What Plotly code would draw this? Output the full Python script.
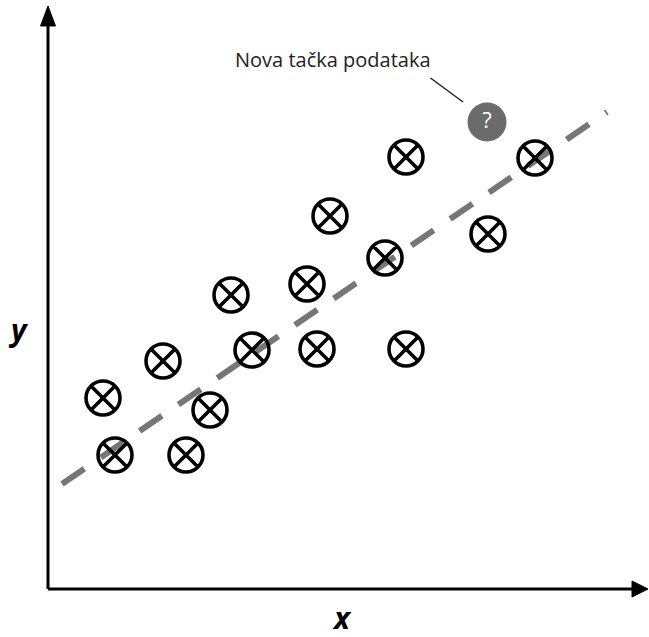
import plotly.graph_objects as go

# Observed data points (abstract units)
pts_x = [1.10, 1.34, 2.76, 3.24, 2.30, 3.66, 4.08, 5.18, 5.38, 5.64, 6.74, 7.16, 7.16, 8.80, 9.74]
pts_y = [3.82, 2.68, 2.68, 3.58, 4.56, 5.88, 4.78, 6.10, 4.80, 7.46, 6.62, 4.80, 8.64, 7.10, 8.62]

# New data point
new_x = [8.78]
new_y = [9.34]
new_label = "Nova tačka podataka"

# Regression line endpoints
line_x = [0.28, 11.18]
line_y = [2.10, 9.54]

X_RANGE = [-0.96, 12.02]
Y_RANGE = [-0.96, 11.78]

fig = go.Figure()

fig.add_trace(go.Scatter(
    x=line_x, y=line_y, mode="lines",
    line=dict(color="#767676", width=6, dash="27px,20px"),
    hoverinfo="skip", showlegend=False,
))

fig.add_trace(go.Scatter(
    x=pts_x, y=pts_y, mode="markers",
    marker=dict(symbol="circle-x-open", size=34, color="black",
                line=dict(color="black", width=3.6)),
    showlegend=False,
))

fig.add_trace(go.Scatter(
    x=new_x, y=new_y, mode="markers+text",
    marker=dict(symbol="circle", size=39, color="#6b6b6b", line=dict(width=0)),
    text=["?"], textposition="middle center",
    textfont=dict(color="white", size=22, family="Open Sans"),
    showlegend=False,
))

shapes = []
# axis lines
shapes.append(dict(type="line", xref="x", yref="y", x0=0, y0=0, x1=11.7, y1=0,
                   line=dict(color="black", width=3)))
shapes.append(dict(type="line", xref="x", yref="y", x0=0, y0=0, x1=0, y1=11.4,
                   line=dict(color="black", width=3)))
# arrowheads
shapes.append(dict(type="path", xref="x", yref="y",
                   path="M 11.68 0.16 L 12.0 0 L 11.68 -0.16 Z",
                   fillcolor="black", line=dict(color="black", width=1)))
shapes.append(dict(type="path", xref="x", yref="y",
                   path="M -0.15 11.26 L 0.0 11.66 L 0.15 11.26 Z",
                   fillcolor="black", line=dict(color="black", width=1)))
# leader line for annotation
shapes.append(dict(type="line", xref="x", yref="y",
                   x0=7.65, y0=10.22, x1=8.3, y1=9.74,
                   line=dict(color="#222222", width=1.5)))

annotations = [
    dict(x=5.70, y=10.60, xref="x", yref="y", text=new_label, showarrow=False,
         font=dict(family="Open Sans", size=20, color="#222222")),
    dict(x=5.88, y=-0.56, xref="x", yref="y", text="<b><i>x</i></b>", showarrow=False,
         font=dict(family="Open Sans", size=30, color="black")),
    dict(x=-0.60, y=5.20, xref="x", yref="y", text="<b><i>y</i></b>", showarrow=False,
         font=dict(family="Open Sans", size=30, color="black")),
]

fig.update_layout(
    width=649, height=637,
    margin=dict(l=0, r=0, t=0, b=0),
    paper_bgcolor="white", plot_bgcolor="white",
    xaxis=dict(range=X_RANGE, visible=False, fixedrange=True),
    yaxis=dict(range=Y_RANGE, visible=False, fixedrange=True),
    shapes=shapes, annotations=annotations,
    showlegend=False,
)

fig.write_html("out.html", config={"displayModeBar": False},
               post_script="document.body.style.margin='0';document.body.style.overflow='hidden';")
